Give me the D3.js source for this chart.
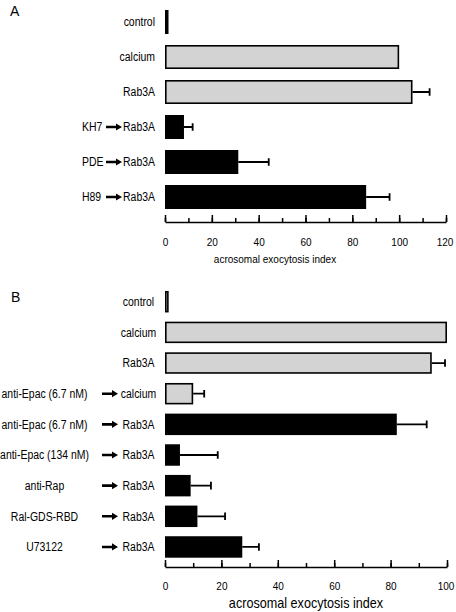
<!DOCTYPE html>
<html>
<head>
<meta charset="utf-8">
<script src="https://cdn.jsdelivr.net/npm/d3@7"></script>
<style>
  html, body { margin: 0; padding: 0; background: #fff; }
  svg { display: block; font-family: "Liberation Sans", Arial, sans-serif; }
</style>
</head>
<body>
<svg id="chart" width="456" height="612"></svg>
<script>
// ---------- Panel A data ----------
const aPretreat = ["", "", "", "KH7", "PDE", "H89"];
const aStimulus = ["control", "calcium", "Rab3A", "Rab3A", "Rab3A", "Rab3A"];
const aValues   = [1.5, 100, 105.7, 8.1, 31.3, 85.9];
const aErrors   = [0, 0, 7.3, 3.7, 13.0, 10.0];
const aGroup    = ["dark", "light", "light", "dark", "dark", "dark"];
const aTicks    = [0, 20, 40, 60, 80, 100, 120];

// ---------- Panel B data ----------
const bPretreat = ["", "", "", "anti-Epac (6.7 nM)", "anti-Epac (6.7 nM)", "anti-Epac (134 nM)", "anti-Rap", "Ral-GDS-RBD", "U73122"];
const bStimulus = ["control", "calcium", "Rab3A", "calcium", "Rab3A", "Rab3A", "Rab3A", "Rab3A", "Rab3A"];
const bValues   = [1.3, 100, 94.6, 10.0, 82.2, 5.3, 9.1, 11.5, 27.4];
const bErrors   = [0, 0, 4.7, 3.9, 10.6, 13.4, 7.2, 9.8, 5.9];
const bGroup    = ["light", "light", "light", "light", "dark", "dark", "dark", "dark", "dark"];
const bTicks    = [0, 20, 40, 60, 80, 100];

const axisTitle = "acrosomal exocytosis index";

const svg = d3.select("#chart");
const fill = d3.scaleOrdinal().domain(["light", "dark"]).range(["#d3d3d3", "#000000"]);
const CONDENSE = 0.87;

function condense(sel) {
  sel.each(function () {
    const len = this.getComputedTextLength();
    if (len > 0) {
      d3.select(this).attr("textLength", len * CONDENSE).attr("lengthAdjust", "spacingAndGlyphs");
    }
  });
  return sel;
}

function arrow(g, x0, x1, y) {
  const head = 6, hh = 3.6, sw = 1.3;
  g.append("path")
    .attr("d", `M${x0},${y - sw}H${x1 - head}V${y - hh}L${x1},${y}L${x1 - head},${y + hh}V${y + sw}H${x0}Z`)
    .attr("fill", "#000");
}

function panel(cfg) {
  const g = svg.append("g");
  const idx = d3.range(cfg.values.length);
  const x = d3.scaleLinear().domain([0, cfg.max]).range(cfg.xRange);
  const y = d3.scaleBand().domain(idx).range(cfg.yRange)
    .paddingInner(cfg.pad).paddingOuter(cfg.pad / 2);

  // bars
  g.selectAll("rect.bar").data(idx).join("rect")
    .attr("class", "bar")
    .attr("x", x(0) + 0.8)
    .attr("y", i => y(i) + 0.8)
    .attr("width", i => Math.max(0, x(cfg.values[i]) - x(0) - 1.6))
    .attr("height", y.bandwidth() - 1.6)
    .attr("fill", i => fill(cfg.group[i]))
    .attr("stroke", "#000")
    .attr("stroke-width", 1.6);

  // error bars
  const eb = idx.filter(i => cfg.errors[i] > 0);
  g.selectAll("path.err").data(eb).join("path")
    .attr("class", "err")
    .attr("d", i => {
      const cy = y(i) + y.bandwidth() / 2;
      const x0 = x(cfg.values[i]), x1 = x(cfg.values[i] + cfg.errors[i]);
      return `M${x0},${cy}H${x1}M${x1},${cy - 3.8}V${cy + 3.8}`;
    })
    .attr("fill", "none").attr("stroke", "#000").attr("stroke-width", 1.8);

  // axis
  const ay = cfg.axisY;
  const minor = d3.range(0, cfg.max + 1, 10);
  g.append("g").attr("transform", `translate(0,${ay})`)
    .call(d3.axisBottom(x).tickValues(minor).tickSizeInner(-4).tickSizeOuter(0).tickFormat(""))
    .call(s => s.select(".domain").remove())
    .call(s => s.selectAll("line").attr("stroke", "#000").attr("stroke-width", 1.5));
  g.append("g").attr("transform", `translate(0,${ay})`)
    .call(d3.axisBottom(x).tickValues(cfg.ticks).tickSizeInner(-7).tickSizeOuter(0).tickPadding(cfg.tickPad))
    .call(s => s.select(".domain").attr("stroke", "#000").attr("stroke-width", 1.6))
    .call(s => s.selectAll("line").attr("stroke", "#000").attr("stroke-width", 1.5))
    .call(s => condense(s.selectAll("text").attr("fill", "#000")
      .attr("font-family", "'Liberation Sans', Arial, sans-serif").attr("font-size", cfg.tickFont)))
    .call(s => s.selectAll(".tick:last-of-type text").attr("dx", -1.5));

  condense(g.append("text")
    .attr("x", cfg.titleX).attr("y", cfg.titleY)
    .attr("text-anchor", "middle").attr("font-size", cfg.titleFont)
    .text(axisTitle));

  // category labels
  idx.forEach(i => {
    const cy = y(i) + y.bandwidth() / 2;
    const base = cy + 4.3;
    const pre = cfg.pretreat[i];
    condense(g.append("text")
      .attr("x", cfg.stimX).attr("y", base)
      .attr("text-anchor", cfg.stimAnchor).attr("font-size", 12)
      .text(cfg.stimulus[i]));
    if (pre) {
      condense(g.append("text")
        .attr("x", cfg.preX).attr("y", base)
        .attr("text-anchor", cfg.preAnchor).attr("font-size", 12)
        .text(pre));
      arrow(g, cfg.arrowX[0], cfg.arrowX[1], cy);
    }
  });

  svg.append("text").attr("x", cfg.letter[0]).attr("y", cfg.letter[1])
    .attr("font-size", 14).text(cfg.letterText);
}

panel({
  letterText: "A", letter: [10, 16],
  pretreat: aPretreat, stimulus: aStimulus, values: aValues, errors: aErrors, group: aGroup,
  ticks: aTicks, max: 120, xRange: [165, 446], yRange: [4.5, 214.5], pad: 0.314,
  axisY: 222, tickPad: 16, tickFont: 11.5, titleX: 275, titleY: 263, titleFont: 11.5,
  stimX: 155, stimAnchor: "end", preX: 82, preAnchor: "start", arrowX: [106, 122]
});

panel({
  letterText: "B", letter: [11, 302],
  pretreat: bPretreat, stimulus: bStimulus, values: bValues, errors: bErrors, group: bGroup,
  ticks: bTicks, max: 100, xRange: [165, 447], yRange: [286.4, 562.3], pad: 0.3,
  axisY: 567, tickPad: 15, tickFont: 11.5, titleX: 306, titleY: 608, titleFont: 14.5,
  stimX: 138.5, stimAnchor: "middle", preX: 44.5, preAnchor: "middle", arrowX: [102, 118]
});
</script>
</body>
</html>
